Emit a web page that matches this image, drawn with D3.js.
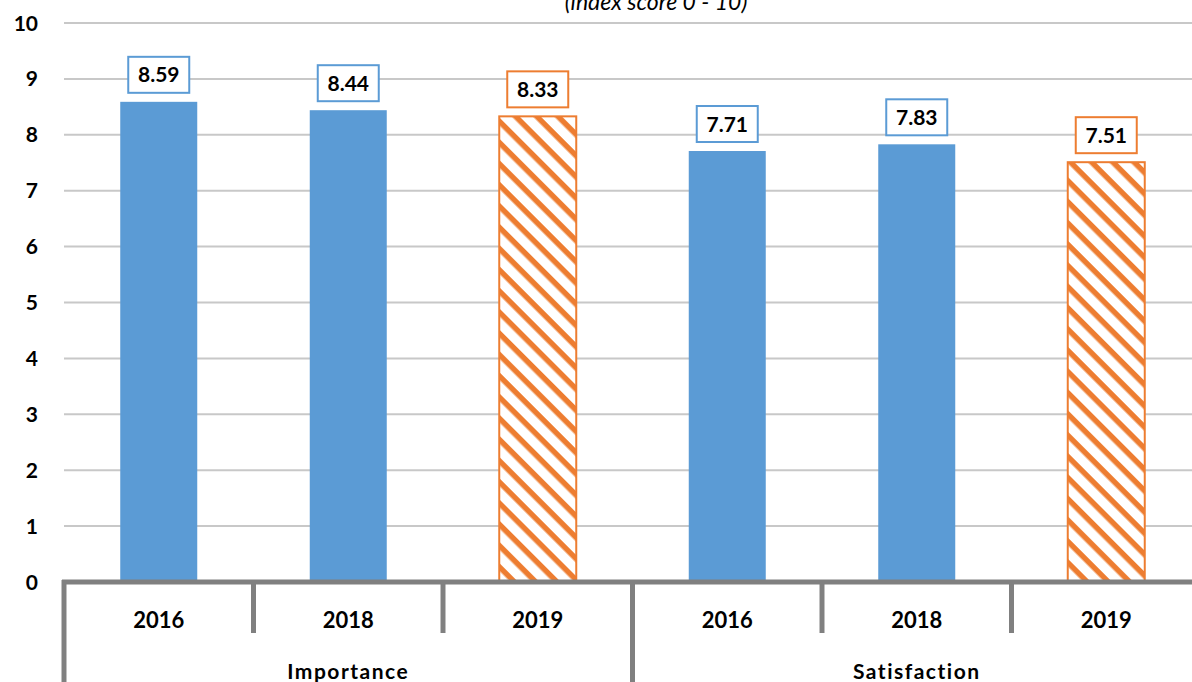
<!DOCTYPE html>
<html>
<head>
<meta charset="utf-8">
<script src="https://cdn.jsdelivr.net/npm/d3@7"></script>
<style>
  html, body { margin: 0; padding: 0; background: #fff; }
  svg { display: block; font-family: Lato, "Open Sans", sans-serif; }
</style>
</head>
<body>
<svg id="chart" width="1192" height="682"></svg>
<script>
// Index scores by measure and survey year
const groups = ["Importance", "Satisfaction"];
const years = ["2016", "2018", "2019"];
const importance = [8.59, 8.44, 8.33];
const satisfaction = [7.71, 7.83, 7.51];
const yTicks = [0, 1, 2, 3, 4, 5, 6, 7, 8, 9, 10];
const subtitle = "(index score 0 - 10)";

const rows = [];
groups.forEach((g, gi) => {
  const vals = gi === 0 ? importance : satisfaction;
  years.forEach((y, yi) => rows.push({ group: g, year: y, value: vals[yi], key: g + "-" + y, latest: yi === years.length - 1 }));
});

const blue = "#5B9BD5", orange = "#ED7D31", axisGrey = "#808080";
const svg = d3.select("#chart");

const plotLeft = 64, plotRight = 1201, plotTop = 23, plotBottom = 582;
const x = d3.scaleBand().domain(rows.map(d => d.key)).range([plotLeft, plotRight]).paddingInner(0).paddingOuter(0);
const y = d3.scaleLinear().domain([0, 10]).range([plotBottom, plotTop]);

// diagonal hatch (top-left to bottom-right) for the latest year
const defs = svg.append("defs");
const step = 15;
const pat = defs.append("pattern")
  .attr("id", "hatch").attr("patternUnits", "userSpaceOnUse")
  .attr("width", step).attr("height", step)
  .attr("patternTransform", "rotate(45)");
pat.append("rect").attr("width", step).attr("height", step).attr("fill", "#fff");
pat.append("rect").attr("x", 0).attr("y", 0).attr("width", step).attr("height", 5.5).attr("fill", orange);

// gridlines
svg.append("g").selectAll("line").data(yTicks.filter(t => t > 0)).join("line")
  .attr("x1", plotLeft).attr("x2", 1192)
  .attr("y1", d => y(d)).attr("y2", d => y(d))
  .attr("stroke", "#C8C8C8").attr("stroke-width", 2);

// y-axis labels
svg.append("g").selectAll("text").data(yTicks).join("text")
  .attr("x", 38).attr("y", d => y(d)).attr("dy", "0.36em")
  .attr("text-anchor", "end").attr("font-size", 21).attr("font-weight", 700)
  .attr("fill", "#000").text(d => d);

// subtitle
svg.append("text").attr("x", 656).attr("y", 10)
  .attr("text-anchor", "middle").attr("font-size", 23).attr("font-style", "italic")
  .attr("fill", "#000").text(subtitle);

// bars
const bw = 77;
svg.append("g").selectAll("rect").data(rows).join("rect")
  .attr("x", d => x(d.key) + x.bandwidth() / 2 - bw / 2)
  .attr("y", d => y(d.value))
  .attr("width", bw)
  .attr("height", d => y(0) - y(d.value))
  .attr("fill", d => d.latest ? "url(#hatch)" : blue)
  .attr("stroke", d => d.latest ? orange : "none")
  .attr("stroke-width", 2);

// value labels in boxes
const lab = svg.append("g").selectAll("g").data(rows).join("g")
  .attr("transform", d => `translate(${x(d.key) + x.bandwidth() / 2},${y(d.value) - 27})`);
lab.append("rect")
  .attr("x", -30.5).attr("y", -18).attr("width", 61).attr("height", 36)
  .attr("fill", "#fff").attr("stroke", d => d.latest ? orange : blue).attr("stroke-width", 2);
lab.append("text")
  .attr("text-anchor", "middle").attr("dy", "0.36em")
  .attr("font-size", 21).attr("font-weight", 700).attr("fill", "#000")
  .text(d => d3.format(".2f")(d.value));

// category axis line and separators
svg.append("line").attr("x1", plotLeft - 2).attr("x2", 1192)
  .attr("y1", plotBottom).attr("y2", plotBottom)
  .attr("stroke", axisGrey).attr("stroke-width", 5);

const seps = rows.map((d, i) => ({ xPos: x(d.key), long: i % years.length === 0 }));
seps.push({ xPos: plotRight, long: true });
svg.append("g").selectAll("line").data(seps).join("line")
  .attr("x1", d => d.xPos).attr("x2", d => d.xPos)
  .attr("y1", plotBottom - 2).attr("y2", d => d.long ? 682 : 633)
  .attr("stroke", axisGrey).attr("stroke-width", 5);

// year labels
svg.append("g").selectAll("text").data(rows).join("text")
  .attr("x", d => x(d.key) + x.bandwidth() / 2).attr("y", 620).attr("dy", "0.36em")
  .attr("text-anchor", "middle").attr("font-size", 22).attr("font-weight", 700)
  .attr("fill", "#000").text(d => d.year);

// group labels
svg.append("g").selectAll("text").data(groups).join("text")
  .attr("x", g => {
    const ks = rows.filter(r => r.group === g).map(r => r.key);
    return (x(ks[0]) + x(ks[ks.length - 1]) + x.bandwidth()) / 2;
  })
  .attr("y", 671).attr("dy", "0.36em")
  .attr("text-anchor", "middle").attr("font-size", 21).attr("font-weight", 700)
  .attr("letter-spacing", 1.5).attr("fill", "#000").text(g => g);
</script>
</body>
</html>
